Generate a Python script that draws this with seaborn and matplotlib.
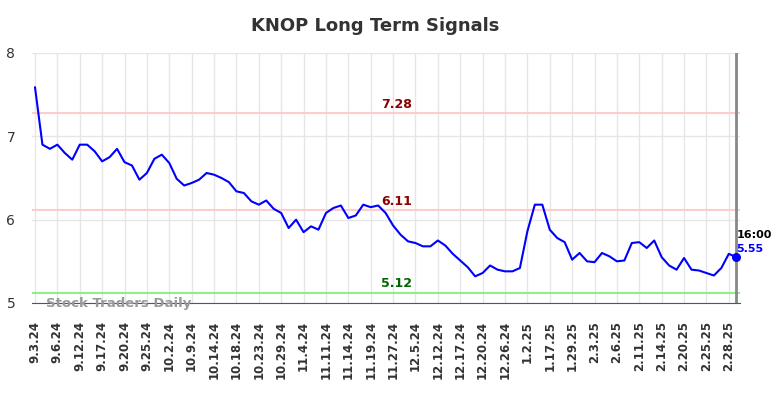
import numpy as np
import pandas as pd
import seaborn as sns
import matplotlib.pyplot as plt

# values
prices = [7.59, 6.90, 6.85, 6.90, 6.80, 6.72, 6.90, 6.90, 6.82, 6.70,
          6.75, 6.85, 6.69, 6.65, 6.48, 6.56, 6.73, 6.78, 6.68, 6.49,
          6.41, 6.44, 6.48, 6.56, 6.54, 6.50, 6.45, 6.34, 6.32, 6.22,
          6.18, 6.23, 6.13, 6.08, 5.90, 6.00, 5.85, 5.92, 5.88, 6.08,
          6.14, 6.17, 6.02, 6.05, 6.18, 6.15, 6.17, 6.08, 5.93, 5.82,
          5.74, 5.72, 5.68, 5.68, 5.75, 5.69, 5.59, 5.51, 5.43, 5.32,
          5.36, 5.45, 5.40, 5.38, 5.38, 5.42, 5.86, 6.18, 6.18, 5.88,
          5.78, 5.73, 5.52, 5.60, 5.50, 5.49, 5.60, 5.56, 5.50, 5.51,
          5.72, 5.73, 5.66, 5.75, 5.55, 5.45, 5.40, 5.54, 5.40, 5.39,
          5.36, 5.33, 5.42, 5.59, 5.55]
tick_labels = ["9.3.24", "9.6.24", "9.12.24", "9.17.24", "9.20.24", "9.25.24",
               "10.2.24", "10.9.24", "10.14.24", "10.18.24", "10.23.24", "10.29.24",
               "11.4.24", "11.11.24", "11.14.24", "11.19.24", "11.27.24", "12.5.24",
               "12.12.24", "12.17.24", "12.20.24", "12.26.24", "1.2.25", "1.17.25",
               "1.29.25", "2.3.25", "2.6.25", "2.11.25", "2.14.25", "2.20.25",
               "2.25.25", "2.28.25"]
levels = [7.28, 6.11, 5.12]
level_colors = ["#8b0000", "#8b0000", "#006400"]
level_line_colors = ["#ffcccc", "#ffcccc", "#90ee90"]
last_time = "16:00"

df = pd.DataFrame({"idx": np.arange(len(prices)), "price": prices})

sns.set_style("white")
fig = plt.figure(figsize=(7.84, 3.98), dpi=100)
ax = fig.add_axes([32 / 784, 95 / 398, 708 / 784, 250 / 398])

for lv, lc in zip(levels, level_line_colors):
    ax.axhline(lv, color=lc, lw=1.5, zorder=1)

sns.lineplot(data=df, x="idx", y="price", color="#0000ff", lw=1.5, ax=ax, zorder=3)

last = len(prices) - 1
ax.axvline(last, color="#888888", lw=2, zorder=2)
ax.scatter([last], [prices[-1]], color="#0000ff", s=30, zorder=4)

mid = 48.5
for lv, c in zip(levels, level_colors):
    ax.text(mid, lv + 0.03, f"{lv:.2f}", color=c, fontsize=9, fontweight="bold",
            ha="center", va="bottom")

ax.text(last, prices[-1] + 0.27, last_time, color="black", fontsize=8,
        fontweight="bold", ha="left", va="center")
ax.text(last, prices[-1] + 0.1, f"{prices[-1]:.2f}", color="#0000ff", fontsize=8,
        fontweight="bold", ha="left", va="center")

ax.text(1.5, 5.0, "Stock Traders Daily", color="#999999", fontsize=9.5,
        fontweight="bold", ha="left", va="center", zorder=5)

ticks = np.arange(0, len(prices), 3)
ax.set_xticks(ticks)
ax.set_xticklabels(tick_labels, rotation=90, fontsize=8.5, fontweight="bold", color="#333333")
ax.set_yticks([5, 6, 7, 8])
ax.set_yticklabels(["5", "6", "7", "8"], fontsize=10, color="#333333")
ax.tick_params(axis="x", length=0, pad=13)
ax.tick_params(axis="y", length=0, pad=12)
ax.set_xlim(-0.4, 94.5)
ax.set_ylim(5, 8)
ax.grid(True, color="#e6e6e6", lw=1)
ax.set_axisbelow(True)
for s in ["top", "right", "left"]:
    ax.spines[s].set_visible(False)
ax.spines["bottom"].set_color("#555555")
ax.set_xlabel("")
ax.set_ylabel("")

fig.suptitle("KNOP Long Term Signals", x=375 / 784, y=1 - 26 / 398, va="center",
             fontsize=13, fontweight="bold", color="#333333")

fig.savefig("out.png", dpi=100)
